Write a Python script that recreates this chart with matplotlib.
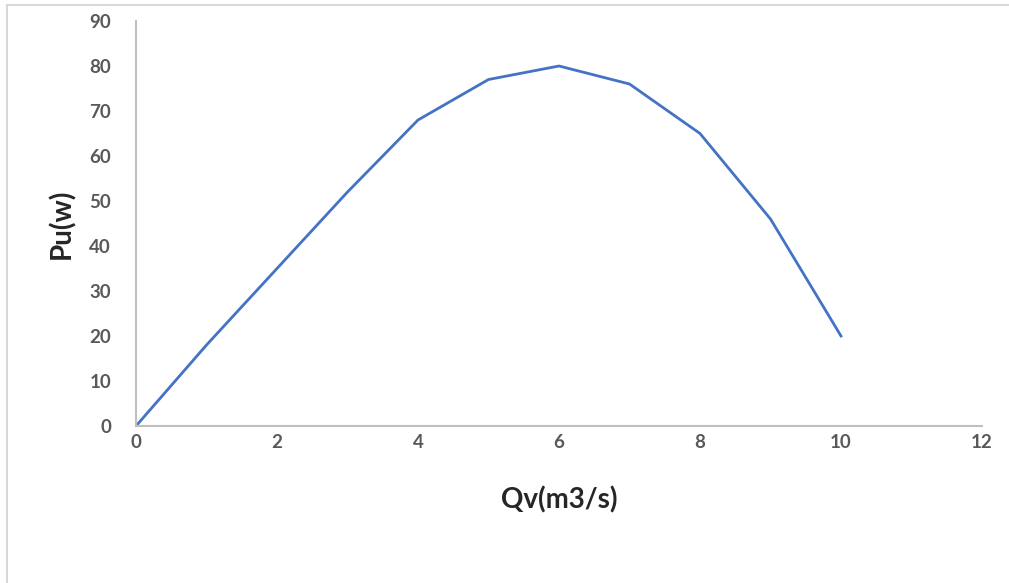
import matplotlib.pyplot as plt
from matplotlib.lines import Line2D

qv = [0, 1, 2, 3, 4, 5, 6, 7, 8, 9, 10]
pu = [0, 18, 35, 52, 68, 77, 80, 76, 65, 46, 20]
x_ticks = [0, 2, 4, 6, 8, 10, 12]
y_ticks = [0, 10, 20, 30, 40, 50, 60, 70, 80, 90]

LINE_COLOR = "#4472c4"
AXIS_COLOR = "#bfbfbf"
TICK_COLOR = "#595959"

plt.rcParams["font.family"] = ["Lato", "DejaVu Sans"]

fig = plt.figure(figsize=(10.09, 5.83), dpi=100)
ax = fig.add_axes([136 / 1009, 1 - 426 / 583, (982 - 136) / 1009, (426 - 21) / 583])

ax.plot(qv, pu, color=LINE_COLOR, linewidth=2.0, solid_joinstyle="round")

ax.set_xlim(0, 12)
ax.set_ylim(0, 90)
ax.set_xticks(x_ticks)
ax.set_yticks(y_ticks)
ax.tick_params(length=0, labelsize=13.5, colors=TICK_COLOR)
ax.tick_params(axis="y", pad=18)
ax.tick_params(axis="x", pad=6)
for lbl in ax.get_xticklabels() + ax.get_yticklabels():
    lbl.set_fontweight("bold")

for side in ["top", "right"]:
    ax.spines[side].set_visible(False)
for side in ["left", "bottom"]:
    ax.spines[side].set_color(AXIS_COLOR)
    ax.spines[side].set_linewidth(1.5)

ax.set_xlabel("Qv(m3/s)", fontsize=20, fontweight="bold", color="#262626", labelpad=25)
ax.set_ylabel("Pu(w)", fontsize=20, fontweight="bold", color="#262626", labelpad=10)

# frame edges seen at top and left of the screenshot
fig.add_artist(Line2D([7 / 1009, 7 / 1009], [0, 1 - 5 / 583], color="#d9d9d9", linewidth=1.5))
fig.add_artist(Line2D([7 / 1009, 1], [1 - 5 / 583, 1 - 5 / 583], color="#d9d9d9", linewidth=1.5))

fig.savefig("out.png", dpi=100)
plt.close(fig)
